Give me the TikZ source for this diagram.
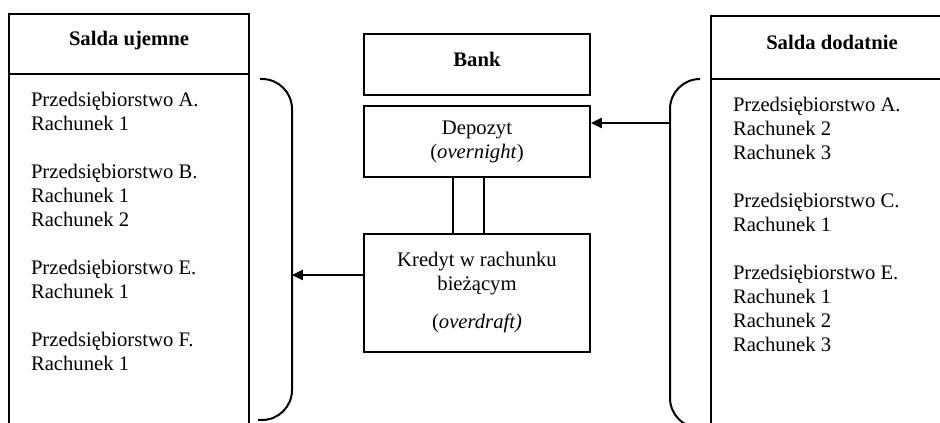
\documentclass[tikz,border=0pt]{standalone}
\usepackage{fontspec}
\setmainfont{Liberation Serif}
\usetikzlibrary{positioning,arrows.meta}

\begin{document}
\begin{tikzpicture}[x=0.6pt, y=-0.6pt, line width=1.2pt,
        font=\fontsize{12.4}{14.4}\selectfont,
        box/.style = {draw, rectangle, inner sep=0pt, outer sep=0pt, anchor=north west},
        head/.style = {box, font=\fontsize{12.4}{14.4}\selectfont\bfseries, text depth=0.62em},
        mid/.style = {draw, rectangle, minimum width=135.6pt, align=center},
        list/.style = {inner sep=0pt, anchor=north west, align=left},
        arr/.style = {-{Triangle[length=6.5pt,width=6pt]}}]
        \useasboundingbox (0,0) rectangle (940,423);
        \clip (0,0) rectangle (940,423);

        % lewa kolumna
        \node[head, minimum width=144pt, minimum height=36pt] (lhead) at (9,14) {Salda ujemne};
        \node[box, minimum width=144pt, minimum height=216pt, below=0pt of lhead] (lbody) {};
        \node[list] (llist) at (30,91) {Przedsiębiorstwo A.\\Rachunek 1\\[14.4pt]
            Przedsiębiorstwo B.\\Rachunek 1\\Rachunek 2\\[14.4pt]
            Przedsiębiorstwo E.\\Rachunek 1\\[14.4pt]
            Przedsiębiorstwo F.\\Rachunek 1};

        % bank
        \node[mid, minimum height=36.6pt, anchor=north west, font=\fontsize{12.4}{14.4}\selectfont\bfseries, text depth=0.62em] (bank) at (363,33) {Bank};
        \node[mid, minimum height=42.6pt] (depozyt) [below=5.4pt of bank] {Depozyt\\(\textit{overnight})};
        \node[mid, minimum height=70.8pt] (kredyt) [below=33pt of depozyt] {Kredyt w rachunku\\bieżącym\\[8.4pt](\textit{overdraft)}};
        \draw ([xshift=-14.4pt]depozyt.south) -- ([xshift=-14.4pt]kredyt.north);
        \draw ([xshift=4.2pt]depozyt.south) -- ([xshift=4.2pt]kredyt.north);

        % prawa kolumna
        \node[head, minimum width=145.2pt, minimum height=37.8pt] (rhead) at (711,16) {Salda dodatnie};
        \node[box, minimum width=145.2pt, minimum height=216pt, below=0pt of rhead] (rbody) {};
        \node[list] (rlist) at (732,96) {Przedsiębiorstwo A.\\Rachunek 2\\Rachunek 3\\[14.4pt]
            Przedsiębiorstwo C.\\Rachunek 1\\[14.4pt]
            Przedsiębiorstwo E.\\Rachunek 1\\Rachunek 2\\Rachunek 3};

        % nawiasy
        \draw[rounded corners=18pt] (260,79) -| (292,420) -- (258,420);
        \draw[rounded corners=18pt] (700,79) -| (670,428) -- (704,428);
        \coordinate (lbr) at (292,275);
        \coordinate (rbr) at (670,123);

        \draw[arr] (lbr -| kredyt.west) -- (lbr);
        \draw[arr] (rbr) -- (rbr -| depozyt.east);
    \end{tikzpicture}
\end{document}
